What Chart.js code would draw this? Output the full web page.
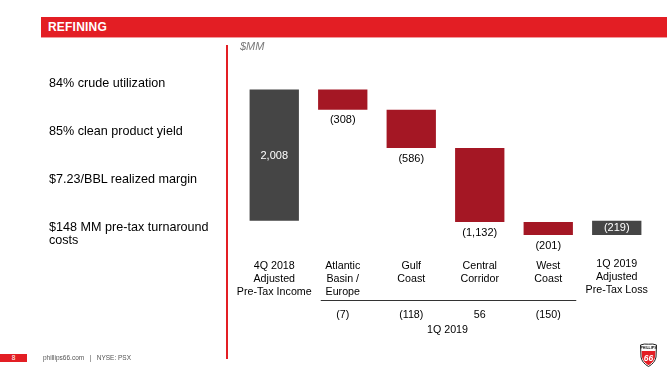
<!DOCTYPE html>
<html>
<head>
<meta charset="utf-8">
<script src="https://cdn.jsdelivr.net/npm/chart.js@4.4.1/dist/chart.umd.min.js"></script>
<style>
  body { margin: 0; background: #fff; font-family: "Liberation Sans", Arial, sans-serif; }
  #wrap { position: relative; width: 667px; height: 374px; overflow: hidden; }
  #chart { position: absolute; left: 0; top: 0; }
  .header { position: absolute; left: 41px; top: 17px; width: 626px; height: 20px; background: #e31e24; border-bottom: 1px solid #f29a9c; }
  .header span { position: absolute; left: 7px; top: 3px; color: #fff; font-weight: bold; font-size: 12px; letter-spacing: 0.2px; }
  .vline { position: absolute; left: 226px; top: 45px; width: 2px; height: 314px; background: #e31e24; }
  .unit { position: absolute; left: 240px; top: 40px; font-size: 11px; font-style: italic; color: #7a7a7a; }
  .stat { position: absolute; left: 49px; font-size: 12.6px; color: #000; line-height: 13px; }
  .pagebox { position: absolute; left: 0; top: 354px; width: 27px; height: 8px; background: #e31e24; color: #fff; font-size: 6.5px; text-align: center; line-height: 8px; }
  .foot { position: absolute; left: 43px; top: 354px; font-size: 6.5px; color: #555; white-space: pre; }
  .logo { position: absolute; left: 639px; top: 343px; }
</style>
</head>
<body>
<div id="wrap">
  <canvas id="chart" width="667" height="374"></canvas>
  <div class="header"><span>REFINING</span></div>
  <div class="vline"></div>
  <div class="unit">$MM</div>
  <div class="stat" style="top:76.5px">84% crude utilization</div>
  <div class="stat" style="top:124.5px">85% clean product yield</div>
  <div class="stat" style="top:173px">$7.23/BBL realized margin</div>
  <div class="stat" style="top:220.5px">$148 MM pre-tax turnaround<br>costs</div>
  <div class="pagebox">8</div>
  <div class="foot">phillips66.com   |   NYSE: PSX</div>
  <svg class="logo" width="19" height="25" viewBox="0 0 19 25">
    <path d="M1.5 2 Q5 0.5 9.5 1.2 Q14 0.5 17.5 2 L17 14 Q16 20 9.5 23.5 Q3 20 2 14 Z" fill="#fff" stroke="#222" stroke-width="1"/>
    <path d="M2.6 8 L16.4 8 L16 14 Q15 19 9.5 22.2 Q4 19 3 14 Z" fill="#e31e24"/>
    <text x="9.5" y="6.3" font-size="3.6" font-weight="bold" text-anchor="middle" fill="#111" font-family="Liberation Sans">PHILLIPS</text>
    <text x="9.5" y="17.5" font-size="8.5" font-weight="bold" font-style="italic" text-anchor="middle" fill="#fff" font-family="Liberation Sans">66</text>
  </svg>
</div>
<script>
// refining earnings walk, $MM
const categories = [
    ['4Q 2018', 'Adjusted', 'Pre-Tax Income'],
    ['Atlantic', 'Basin /', 'Europe'],
    ['Gulf', 'Coast'],
    ['Central', 'Corridor'],
    ['West', 'Coast'],
    ['1Q 2019', 'Adjusted', 'Pre-Tax Loss']
];
const values = [2008, -308, -586, -1132, -201, -219];
const isTotal = [true, false, false, false, false, true];
const turnaround = [null, -7, -118, 56, -150, null];
const groupLabel = '1Q 2019';

const totalColor = '#454545';
const deltaColor = '#a41724';

function fmt(v) {
    const s = Math.abs(v).toLocaleString('en-US');
    return v < 0 ? '(' + s + ')' : s;
}

// floating bars: totals from zero, changes stacked on running sum
let running = 0;
const floating = values.map(function(v, i) {
    if (isTotal[i]) {
        running = v;
        return [0, v];
    }
    const start = running;
    running += v;
    return [start, running];
});

const labelPlugin = {
    id: 'walkLabels',
    afterDatasetsDraw: function(chart) {
        const ctx = chart.ctx;
        const x = chart.scales.x;
        const y = chart.scales.y;
        const area = chart.chartArea;
        ctx.save();
        ctx.textAlign = 'center';
        ctx.textBaseline = 'middle';

        // value labels
        ctx.font = '11px "Liberation Sans", Arial, sans-serif';
        floating.forEach(function(f, i) {
            const cx = x.getPixelForValue(i);
            const top = y.getPixelForValue(Math.max(f[0], f[1]));
            const bot = y.getPixelForValue(Math.min(f[0], f[1]));
            if (isTotal[i]) {
                ctx.fillStyle = '#fff';
                ctx.fillText(fmt(values[i]), cx, (top + bot) / 2 + 0.5);
            } else {
                ctx.fillStyle = '#000';
                ctx.fillText(fmt(values[i]), cx, bot + 10.5);
            }
        });

        // category labels
        ctx.font = '10.7px "Liberation Sans", Arial, sans-serif';
        ctx.fillStyle = '#000';
        categories.forEach(function(lines, i) {
            const cx = x.getPixelForValue(i);
            const y0 = isTotal[i] && i > 0 ? area.bottom + 4.5 : area.bottom + 6;
            lines.forEach(function(t, k) {
                ctx.fillText(t, cx, y0 + k * 12.8);
            });
        });

        // group rule and turnaround row
        const left = x.getPixelForValue(1) - 22;
        const right = x.getPixelForValue(4) + 28;
        ctx.strokeStyle = '#333';
        ctx.lineWidth = 1;
        ctx.beginPath();
        ctx.moveTo(left, area.bottom + 40.5);
        ctx.lineTo(right, area.bottom + 40.5);
        ctx.stroke();

        turnaround.forEach(function(v, i) {
            if (v === null) return;
            ctx.fillText(fmt(v), x.getPixelForValue(i), area.bottom + 55.5);
        });
        const mid = (x.getPixelForValue(2) + x.getPixelForValue(3)) / 2 + 2;
        ctx.fillText(groupLabel, mid, area.bottom + 70.5);
        ctx.restore();
    }
};

new Chart(document.getElementById('chart').getContext('2d'), {
    type: 'bar',
    data: {
        labels: categories,
        datasets: [{
            data: floating,
            backgroundColor: isTotal.map(function(t) { return t ? totalColor : deltaColor; }),
            borderWidth: 0,
            barPercentage: 0.72,
            categoryPercentage: 1
        }]
    },
    options: {
        responsive: false,
        animation: false,
        layout: { padding: { left: 240, right: 16, top: 64, bottom: 114 } },
        plugins: {
            legend: { display: false },
            tooltip: { enabled: false }
        },
        scales: {
            x: { display: false },
            y: { display: false, min: -600, max: 2400 }
        }
    },
    plugins: [labelPlugin]
});
</script>
</body>
</html>
